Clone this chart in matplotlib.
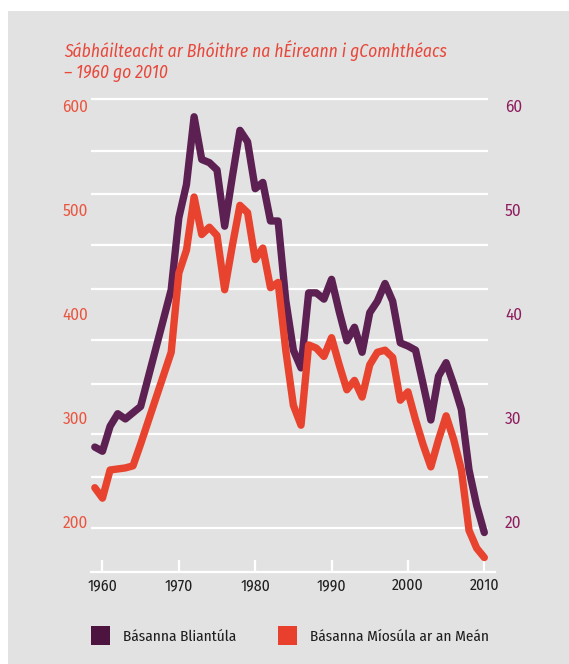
import matplotlib
matplotlib.use("Agg")
import matplotlib.pyplot as plt
from matplotlib.patches import Patch, Rectangle

# dane
years = list(range(1959, 2011))
bliantula = [272, 268, 292, 304, 299, 305, 311, 339, 367, 395,
             423, 492, 524, 589, 548, 545, 538, 484, 531, 576,
             565, 520, 526, 489, 489, 413, 365, 348, 420, 420,
             414, 433, 402, 374, 387, 363, 401, 412, 429, 412,
             372, 369, 365, 332, 298, 340, 353, 332, 308, 250,
             216, 190]
miosula = [23.3, 22.3, 25.0, 25.1, 25.2, 25.4, 27.5, 29.7, 31.9, 34.1,
           36.3, 43.9, 46.1, 51.2, 47.6, 48.3, 47.5, 42.3, 46.5, 50.4,
           49.7, 45.2, 46.3, 42.5, 43.0, 36.5, 31.2, 29.3, 37.0, 36.7,
           35.9, 37.7, 35.1, 32.7, 33.6, 32.0, 35.1, 36.3, 36.5, 35.8,
           31.7, 32.5, 29.8, 27.4, 25.3, 27.9, 30.2, 27.9, 25.0, 19.2,
           17.5, 16.6]
lewe_ticki = [200, 300, 400, 500, 600]
prawe_ticki = [20, 30, 40, 50, 60]
x_ticki = [1960, 1970, 1980, 1990, 2000, 2010]
siatka = [606, 556, 515, 466, 424, 375, 333, 285, 243, 194]
tytul1 = "Sábháilteacht ar Bhóithre na hÉireann i gComhthéacs"
tytul2 = "– 1960 go 2010"
etykiety = ["Básanna Bliantúla", "Básanna Míosúla ar an Meán"]

NARROW = ["Fira Sans Condensed", "DejaVu Sans"]
ZWYKLY = ["Fira Sans", "DejaVu Sans"]
PURPLE = "#5c2052"
RED = "#e8432e"
W, H = 569, 664

fig = plt.figure(figsize=(W / 100, H / 100), dpi=100)
fig.patch.set_facecolor("white")
fig.add_artist(Rectangle((8 / W, 0), 1 - 8 / W, 1 - 11 / H, transform=fig.transFigure,
                         facecolor="#e2e2e2", edgecolor="none", zorder=-5))

ax = fig.add_axes([91 / W, 1 - 571.7 / H, 404 / W, (571.7 - 95) / H])
ax.set_facecolor("none")
ax.set_xlim(1958.5, 2011.4)
ax.set_ylim(152.4, 609.9)
ax.hlines(siatka, 1958.5, 2010.5, color="white", lw=1.6, zorder=1)
ax.plot(years, bliantula, color=PURPLE, lw=5.3, solid_joinstyle="round",
        solid_capstyle="round", zorder=3)

for s in ["top", "left", "right"]:
    ax.spines[s].set_visible(False)
ax.spines["bottom"].set_color("white")
ax.spines["bottom"].set_linewidth(1.6)

ax.set_xticks(x_ticki)
ax.set_xticklabels([str(x) for x in x_ticki], family=NARROW, fontsize=11.3, color="#1e1e1e")
ax.tick_params(axis="x", direction="in", length=9, width=1.6, color="white", pad=4.4)
ax.set_yticks(lewe_ticki)
ax.set_yticklabels([str(v) for v in lewe_ticki], family=ZWYKLY, fontsize=11.2, color="#ea553f")
ax.tick_params(axis="y", length=0, pad=2)

ax2 = ax.twinx()
ax2.set_ylim(15.24, 60.99)
ax2.plot(years, miosula, color=RED, lw=5.3, solid_joinstyle="round",
         solid_capstyle="round", zorder=3)
for s in ax2.spines.values():
    s.set_visible(False)
ax2.set_yticks(prawe_ticki)
ax2.set_yticklabels([str(v) for v in prawe_ticki], family=ZWYKLY, fontsize=11.2, color="#8e1c5e")
ax2.tick_params(axis="y", length=0, pad=7.2)

fig.text(64 / W, 1 - 56.8 / H, tytul1, family=NARROW, style="italic", fontsize=12.6,
         color="#e8473a", va="baseline")
fig.text(64 / W, 1 - 78.3 / H, tytul2, family=NARROW, style="italic", fontsize=12.6,
         color="#e8473a", va="baseline")

uchwyty = [Patch(facecolor="#4e1440", edgecolor="none"),
           Patch(facecolor="#e8402d", edgecolor="none")]
fig.legend(uchwyty, etykiety, ncol=2, loc="center left",
           bbox_to_anchor=(91 / W, 1 - 635.5 / H), frameon=False,
           prop={"family": NARROW, "size": 11}, labelcolor="#1e1e1e",
           handlelength=1.24, handleheight=1.53, handletextpad=0.87,
           columnspacing=2.7, borderpad=0, borderaxespad=0)

fig.savefig("out.png", dpi=100)
